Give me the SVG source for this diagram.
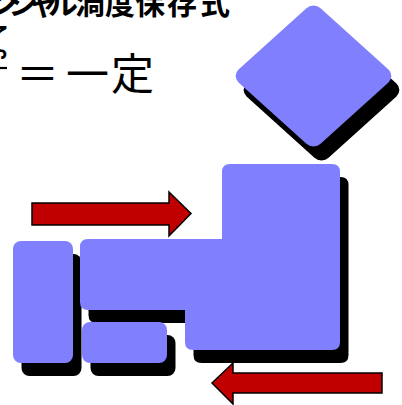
<svg xmlns="http://www.w3.org/2000/svg" width="402" height="405" viewBox="0 0 402 405">
  <style>
    .shape { fill: #8080FF; }
    .shadow { fill: #000000; }
    .arrow { fill: #C00000; stroke: #000000; stroke-width: 1.5; stroke-linejoin: miter; }
    .title { font-family: "Noto Sans CJK JP", "Noto Sans", sans-serif; font-weight: bold; font-size: 30px; fill: #000; }
    .eq { font-family: "Noto Sans CJK JP", "Noto Sans", sans-serif; font-size: 43px; fill: #000; }
  </style>
  <defs>
    <path id="lshape" d="M230,164 H332 Q340,164 340,172 V342 Q340,350 332,350 H193 Q185,350 185,342 V310 H88 Q80,310 80,302 V247 Q80,239 88,239 H222 V172 Q222,164 230,164 Z"/>
    <rect id="diam" x="-58" y="-58" width="116" height="116" rx="10" ry="10"/>
  </defs>

  <g id="title">
    <text class="title" x="-12 8 28.5 48 75 105 135 167 200" y="14">ンシャル渦度保存式</text>
  </g>

  <g id="equation">
    <text x="-10" y="52" style="font-family: 'DejaVu Sans', sans-serif; font-size: 33px; fill: #000;">ζ</text>
    <line x1="-10" y1="68" x2="7" y2="68" stroke="#000" stroke-width="2.2"/>
    <text class="eq" x="16" y="90">＝</text>
    <text class="eq" x="66" y="90">一</text>
    <text class="eq" x="111" y="90">定</text>
  </g>

  <g id="shadows">
    <use href="#diam" class="shadow" transform="translate(321.5,90) scale(1,0.905) rotate(45)"/>
    <use href="#lshape" class="shadow" transform="translate(8.5,13)"/>
    <rect class="shadow" x="21.5" y="254" width="60" height="122" rx="8"/>
    <rect class="shadow" x="90.5" y="335" width="85" height="41" rx="8"/>
  </g>

  <g id="node-diamond">
    <use href="#diam" class="shape" transform="translate(313.5,76) scale(1,0.905) rotate(45)"/>
  </g>
  <g id="node-lshape">
    <use href="#lshape" class="shape"/>
  </g>
  <g id="node-tall">
    <rect class="shape" x="13" y="241" width="60" height="122" rx="8"/>
  </g>
  <g id="node-small">
    <rect class="shape" x="82" y="322" width="85" height="41" rx="8"/>
  </g>

  <g id="connectors">
    <polygon class="arrow" points="32,203 169,203 169,192 191,213.5 169,236 169,225 32,225"/>
    <polygon class="arrow" points="212,383 233,363 233,373 382,373 382,393 233,393 233,404"/>
  </g>
</svg>
